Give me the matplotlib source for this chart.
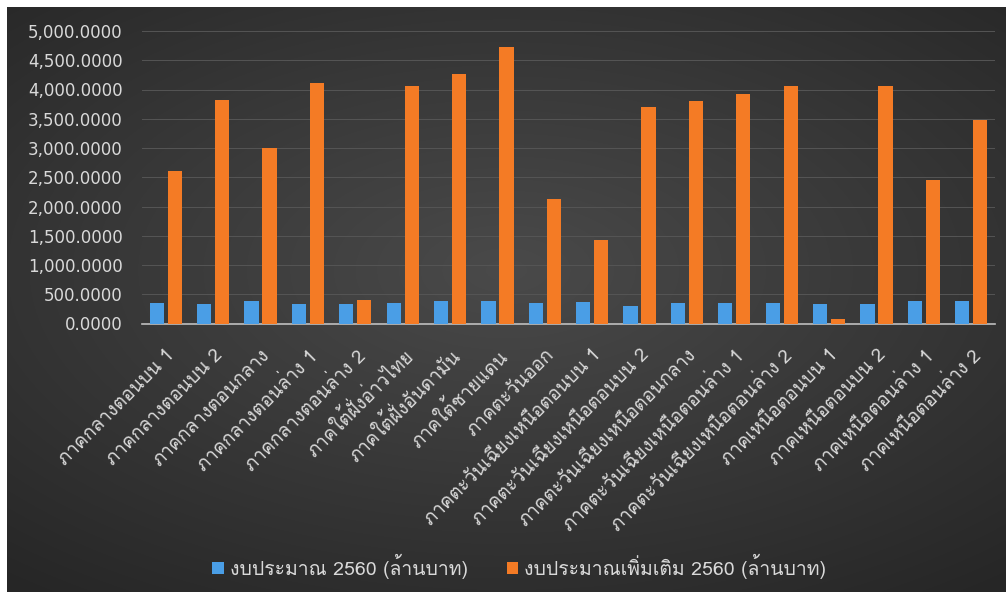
import numpy as np
import matplotlib
matplotlib.use("Agg")
import matplotlib.pyplot as plt
from matplotlib import font_manager
from matplotlib.ticker import FuncFormatter, MultipleLocator

categories = [
    "ภาคกลางตอนบน 1", "ภาคกลางตอนบน 2", "ภาคกลางตอนกลาง", "ภาคกลางตอนล่าง 1",
    "ภาคกลางตอนล่าง 2", "ภาคใต้ฝั่งอ่าวไทย", "ภาคใต้ฝั่งอันดามัน", "ภาคใต้ชายแดน",
    "ภาคตะวันออก", "ภาคตะวันเฉียงเหนือตอนบน 1", "ภาคตะวันเฉียงเหนือตอนบน 2",
    "ภาคตะวันเฉียงเหนือตอนกลาง", "ภาคตะวันเฉียงเหนือตอนล่าง 1",
    "ภาคตะวันเฉียงเหนือตอนล่าง 2", "ภาคเหนือตอนบน 1", "ภาคเหนือตอนบน 2",
    "ภาคเหนือตอนล่าง 1", "ภาคเหนือตอนล่าง 2",
]
budget_2560 = [345, 333, 385, 333, 333, 350, 385, 390, 350, 368, 299, 350, 350, 350, 333, 333, 385, 385]
extra_2560 = [2610, 3823, 2998, 4118, 402, 4060, 4265, 4727, 2126, 1427, 3704, 3803, 3917, 4060, 72, 4060, 2453, 3479]
series_names = ["งบประมาณ 2560 (ล้านบาท)", "งบประมาณเพิ่มเติม 2560 (ล้านบาท)"]

# find a font with Thai glyphs
thai_font = None
try:
    from fontTools.ttLib import TTFont
    for fe in font_manager.fontManager.ttflist:
        try:
            f = TTFont(fe.fname, fontNumber=0, lazy=True)
            cmap = f.getBestCmap()
            if cmap and 0x0E01 in cmap and 0x0E48 in cmap:
                thai_font = fe.name
                break
        except Exception:
            continue
except Exception:
    pass
families = ([thai_font] if thai_font else []) + ["DejaVu Sans"]
plt.rcParams['font.family'] = families

fig = plt.figure(figsize=(10.08, 5.92), dpi=100)
fig.patch.set_facecolor("white")

# background gradient
bg = fig.add_axes([7/1008, 0, 999/1008, 585/592])
yy, xx = np.mgrid[-1:1:300j, -1:1:500j]
r = np.sqrt((xx * 0.9) ** 2 + ((yy + 0.1) * 1.0) ** 2)
val = np.clip(1 - r / 1.4, 0, 1)
lo, hi = 0.15, 0.29
img = lo + (hi - lo) * val
bg.imshow(np.dstack([img, img, img]), aspect="auto", extent=[0, 1, 0, 1], interpolation="bilinear")
bg.set_axis_off()

ax = fig.add_axes([142/1008, 1 - 323.5/592, 853/1008, 292.5/592])
ax.set_facecolor("none")
x = np.arange(len(categories))
w = 0.30
ax.bar(x - 0.19, budget_2560, width=w, color="#4a9ee6", label=series_names[0], zorder=3)
ax.bar(x + 0.19, extra_2560, width=w, color="#f47b25", label=series_names[1], zorder=3)
ax.set_xlim(-0.5, len(categories) - 0.5)
ax.set_ylim(0, 5000)
ax.yaxis.set_major_locator(MultipleLocator(500))
ax.yaxis.set_major_formatter(FuncFormatter(lambda v, p: f"{v:,.4f}"))
ax.grid(axis="y", color="#555555", linewidth=0.7, zorder=0)
for s in ["top", "right", "left"]:
    ax.spines[s].set_visible(False)
ax.spines["bottom"].set_color("#bfbfbf")
ax.spines["bottom"].set_linewidth(1.2)
ax.tick_params(axis="both", length=0, colors="#d9d9d9")
ax.tick_params(axis="y", pad=14)
ax.tick_params(axis="x", pad=16)
ax.set_xticks(x)
ax.set_xticklabels(categories, rotation=45, ha="right", rotation_mode="anchor", fontsize=13.5, color="#d9d9d9")
for lab in ax.get_yticklabels():
    lab.set_color("#d9d9d9")
    lab.set_fontfamily("DejaVu Sans")
    lab.set_fontsize(12)

leg = fig.legend(loc="center", bbox_to_anchor=(0.515, 1 - 566/592), ncol=2, frameon=False,
                 fontsize=14, handlelength=0.6, handleheight=0.6, handletextpad=0.3, columnspacing=2.0)
for t in leg.get_texts():
    t.set_color("#d9d9d9")

fig.savefig("out.png", dpi=100, facecolor=fig.get_facecolor())
